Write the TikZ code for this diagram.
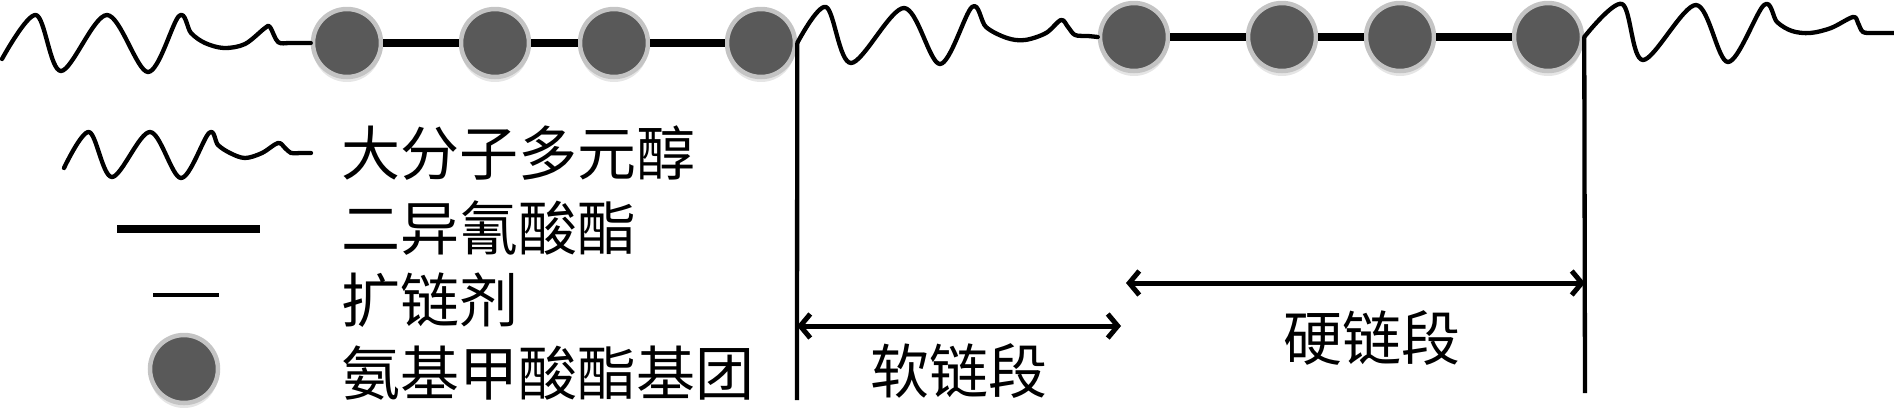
\documentclass[tikz,border=0pt]{standalone}
\usepackage{fontspec}
\newfontfamily\cjk{Noto Sans CJK SC}
\usetikzlibrary{arrows.meta,shadows}
\definecolor{urethane}{HTML}{595959}
\definecolor{halo}{HTML}{C4C4C4}
\begin{document}
\begin{tikzpicture}[x=1bp,y=-1bp,
  grp/.style={circle,minimum size=68bp,inner sep=0pt,fill=urethane,draw=halo,line width=4.5bp,
    drop shadow={fill=black,opacity=0.10,shadow xshift=0bp,shadow yshift=-5bp}},
  wave/.style={line width=4.3bp,line join=round,line cap=round},
  diiso/.style={line width=8bp},
  ext/.style={line width=4.5bp},
  vline/.style={line width=4.3bp},
  dim/.style={line width=5bp,{Straight Barb[length=10bp,width=24bp]}-{Straight Barb[length=10bp,width=24bp]}},
  lbl/.style={inner sep=0pt,anchor=west,font=\cjk\fontsize{59bp}{70bp}\selectfont},
  seg/.style={inner sep=0pt,font=\cjk\fontsize{59bp}{70bp}\selectfont}]
\useasboundingbox (0,0) rectangle (1894,417);

% top chain: urethane groups
\node[grp] (c1) at (347,43) {};
\node[grp] (c2) at (495,43) {};
\node[grp] (c3) at (614,43) {};
\node[grp] (c4) at (761,43) {};
\node[grp] (c5) at (1134,37) {};
\node[grp] (c6) at (1282,37) {};
\node[grp] (c7) at (1400,37) {};
\node[grp] (c8) at (1548,37) {};

% diisocyanate / chain extender links
\draw[diiso] (c1.east) -- (c2.west);
\draw[diiso] (c2.east) -- (c3.west);
\draw[diiso] (c3.east) -- (c4.west);
\draw[diiso] (c5.east) -- (c6.west);
\draw[diiso] (c6.east) -- (c7.west);
\draw[diiso] (c7.east) -- (c8.west);

% polyol waves
\coordinate (w0) at (2,59);
\draw[wave] plot[smooth,tension=0.55] coordinates {(w0) (36,15) (61,71) (107,15) (148,72) (179,16) (191,33) (205,43) (224,48) (245,44) (265,28) (270,27) (278,42) (290,43) (c1.west)};
\draw[wave] plot[smooth,tension=0.55] coordinates {(c4.east) (826,7) (851,63) (904,8) (940,64) (972,7) (986,27) (1007,38) (1025,40) (1046,33) (1061,20) (1068,27) (1075,35) (1088,36) (c5.west)};
\coordinate (wend) at (1894,33);
\draw[wave] plot[smooth,tension=0.55] coordinates {(c8.east) (1622,4) (1643,60) (1696,5) (1728,62) (1764,5) (1777,22) (1792,31) (1810,33) (1831,28) (1853,17) (1858,23) (1863,32) (1875,33) (wend)};

% segment boundaries
\coordinate (v1b) at (797,400);
\coordinate (v2b) at (1585,393);
\draw[vline] (c4.east) -- (v1b);
\draw[vline] (c8.east) -- (v2b);

% dimension arrows
\coordinate (a1s) at (797,326);
\coordinate (a1e) at (1121,326);
\coordinate (a2s) at (1126,283);
\coordinate (a2e) at (1585,283);
\draw[dim] (a1s) -- (a1e);
\draw[dim] (a2s) -- (a2e);
\node[seg] (soft) at (959,371) {软链段};
\node[seg] (hard) at (1372,338) {硬链段};

% legend
\coordinate (lw0) at (64,168);
\coordinate (lw1) at (311,153);
\draw[wave] plot[smooth,tension=0.55] coordinates {(lw0) (89,132) (112,177) (150,132) (181,178) (209,133) (218,145) (230,153) (245,158) (262,153) (278,143) (285,148) (291,153) (300,153) (lw1)};
\coordinate (lb0) at (117,229);
\coordinate (lb1) at (260,229);
\draw[diiso] (lb0) -- (lb1);
\coordinate (le0) at (153,295);
\coordinate (le1) at (219,295);
\draw[ext] (le0) -- (le1);
\node[grp] (lc) at (184,369) {};

\node[lbl] (t1) at (341,153) {大分子多元醇};
\node[lbl] (t2) at (341,228) {二异氰酸酯};
\node[lbl] (t3) at (341,300) {扩链剂};
\node[lbl] (t4) at (341,373) {氨基甲酸酯基团};
\end{tikzpicture}
\end{document}
